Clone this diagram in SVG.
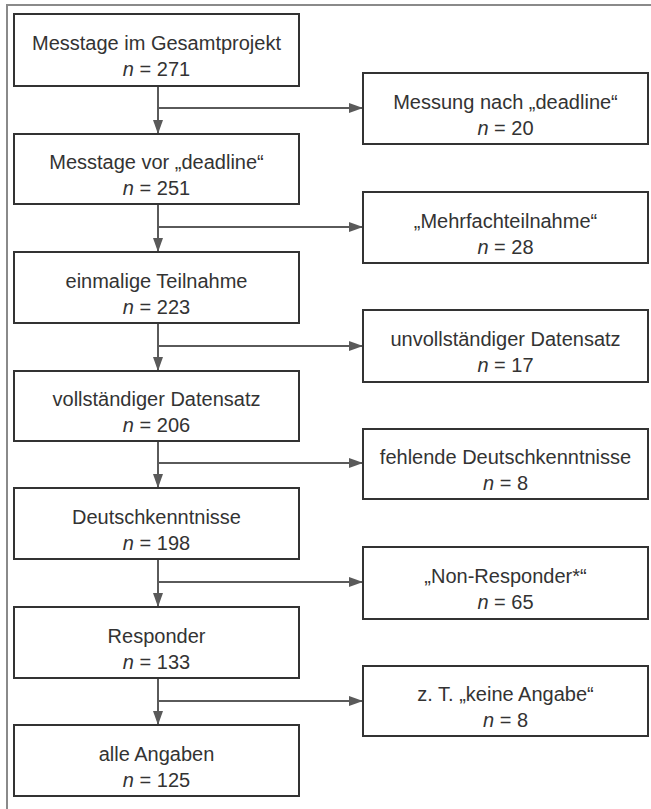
<svg xmlns="http://www.w3.org/2000/svg" width="651" height="809" viewBox="0 0 651 809">
<defs>
<style>
.box{fill:#fff;stroke:#333;stroke-width:2}
.t{font-family:"Liberation Sans",Arial,sans-serif;font-size:20px;fill:#333;text-anchor:middle}
.i{font-style:italic}
.c{stroke:#5a5a5a;stroke-width:2;fill:none}
.frame{stroke:#8a8a8a;stroke-width:2;fill:none}
</style>
<marker id="ah" viewBox="0 0 14 10" refX="14" refY="5" markerWidth="14" markerHeight="10" markerUnits="userSpaceOnUse" orient="auto">
<path d="M0,0 L14,5 L0,10 Z" fill="#5a5a5a"/>
</marker>
</defs>
<rect width="651" height="809" fill="#fff"/>
<path class="frame" d="M7,809 V5 H651"/>
<g id="connectors">
<line class="c" x1="158" y1="86" x2="158" y2="134" marker-end="url(#ah)"/>
<line class="c" x1="158" y1="108" x2="363" y2="108" marker-end="url(#ah)"/>
<line class="c" x1="158" y1="204" x2="158" y2="252" marker-end="url(#ah)"/>
<line class="c" x1="158" y1="227" x2="363" y2="227" marker-end="url(#ah)"/>
<line class="c" x1="158" y1="323" x2="158" y2="371" marker-end="url(#ah)"/>
<line class="c" x1="158" y1="346" x2="363" y2="346" marker-end="url(#ah)"/>
<line class="c" x1="158" y1="441" x2="158" y2="488" marker-end="url(#ah)"/>
<line class="c" x1="158" y1="463" x2="363" y2="463" marker-end="url(#ah)"/>
<line class="c" x1="158" y1="559" x2="158" y2="607" marker-end="url(#ah)"/>
<line class="c" x1="158" y1="582" x2="363" y2="582" marker-end="url(#ah)"/>
<line class="c" x1="158" y1="678" x2="158" y2="725" marker-end="url(#ah)"/>
<line class="c" x1="158" y1="701" x2="363" y2="701" marker-end="url(#ah)"/>
</g>
<g id="n1"><rect class="box" x="14" y="14" width="285" height="72"/>
<text class="t" x="156.5" y="50">Messtage im Gesamtprojekt</text>
<text class="t" x="156.5" y="76"><tspan class="i">n</tspan> = 271</text></g>
<g id="r1"><rect class="box" x="363" y="73" width="285" height="71"/>
<text class="t" x="505.5" y="109">Messung nach „deadline“</text>
<text class="t" x="505.5" y="135"><tspan class="i">n</tspan> = 20</text></g>
<g id="n2"><rect class="box" x="14" y="134" width="285" height="70"/>
<text class="t" x="156.5" y="169">Messtage vor „deadline“</text>
<text class="t" x="156.5" y="195"><tspan class="i">n</tspan> = 251</text></g>
<g id="r2"><rect class="box" x="363" y="192" width="285" height="71"/>
<text class="t" x="505.5" y="228">„Mehrfachteilnahme“</text>
<text class="t" x="505.5" y="254"><tspan class="i">n</tspan> = 28</text></g>
<g id="n3"><rect class="box" x="14" y="252" width="285" height="71"/>
<text class="t" x="156.5" y="288">einmalige Teilnahme</text>
<text class="t" x="156.5" y="314"><tspan class="i">n</tspan> = 223</text></g>
<g id="r3"><rect class="box" x="363" y="310" width="285" height="72"/>
<text class="t" x="505.5" y="346">unvollständiger Datensatz</text>
<text class="t" x="505.5" y="372"><tspan class="i">n</tspan> = 17</text></g>
<g id="n4"><rect class="box" x="14" y="371" width="285" height="70"/>
<text class="t" x="156.5" y="406">vollständiger Datensatz</text>
<text class="t" x="156.5" y="432"><tspan class="i">n</tspan> = 206</text></g>
<g id="r4"><rect class="box" x="363" y="429" width="285" height="70"/>
<text class="t" x="505.5" y="464">fehlende Deutschkenntnisse</text>
<text class="t" x="505.5" y="490"><tspan class="i">n</tspan> = 8</text></g>
<g id="n5"><rect class="box" x="14" y="488" width="285" height="71"/>
<text class="t" x="156.5" y="524">Deutschkenntnisse</text>
<text class="t" x="156.5" y="550"><tspan class="i">n</tspan> = 198</text></g>
<g id="r5"><rect class="box" x="363" y="547" width="285" height="72"/>
<text class="t" x="505.5" y="583">„Non-Responder*“</text>
<text class="t" x="505.5" y="609"><tspan class="i">n</tspan> = 65</text></g>
<g id="n6"><rect class="box" x="14" y="607" width="285" height="71"/>
<text class="t" x="156.5" y="643">Responder</text>
<text class="t" x="156.5" y="669"><tspan class="i">n</tspan> = 133</text></g>
<g id="r6"><rect class="box" x="363" y="666" width="285" height="70"/>
<text class="t" x="505.5" y="701">z. T. „keine Angabe“</text>
<text class="t" x="505.5" y="727"><tspan class="i">n</tspan> = 8</text></g>
<g id="n7"><rect class="box" x="14" y="725" width="285" height="71"/>
<text class="t" x="156.5" y="761">alle Angaben</text>
<text class="t" x="156.5" y="787"><tspan class="i">n</tspan> = 125</text></g>
</svg>
